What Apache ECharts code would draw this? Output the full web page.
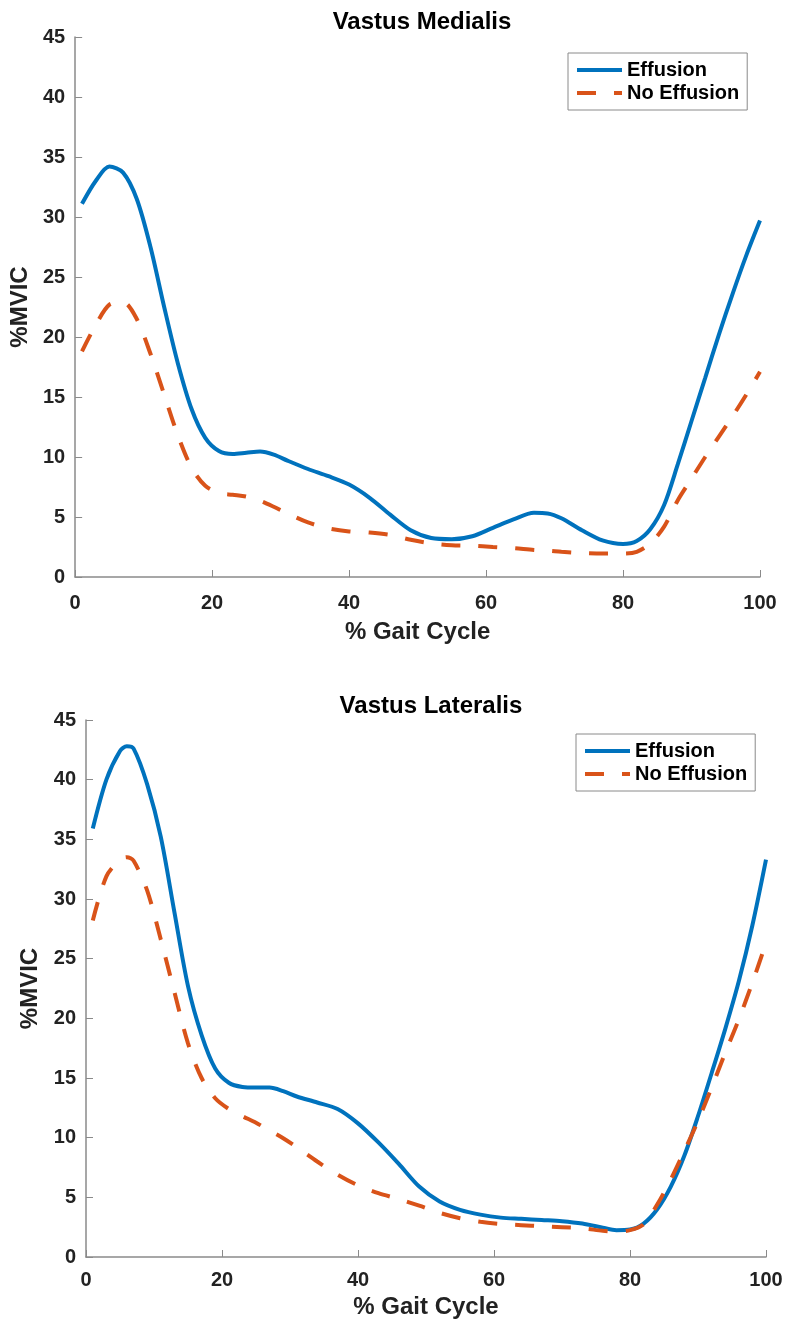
<!DOCTYPE html>
<html>
<head>
<meta charset="utf-8">
<script src="https://cdn.jsdelivr.net/npm/echarts@6/dist/echarts.min.js"></script>
<style>
html,body{margin:0;padding:0;background:#fff;}
#chart{width:786px;height:1324px;}
</style>
</head>
<body>
<div id="chart"></div>
<script>
// ---- Data ----
const titles = ['Vastus Medialis', 'Vastus Lateralis'];
const seriesNames = ['Effusion', 'No Effusion'];
const xTicks = [0, 20, 40, 60, 80, 100];
const yTicks = [0, 5, 10, 15, 20, 25, 30, 35, 40, 45];

// Vastus Medialis (% gait cycle samples)
const vmX = [1,3,5,7,9,11,13,15,17,19,21,23,25,27,29,31,34,37,40,43,46,49,52,55,58,61,64,67,69,71,74,77,80,82,84,86,88,90,92,94,96,98,100];
const vmEffusion = [31.1,33.0,34.2,33.7,31.5,27.5,22.5,17.8,14.0,11.6,10.5,10.25,10.35,10.45,10.2,9.7,9.0,8.4,7.7,6.6,5.2,3.9,3.25,3.15,3.4,4.1,4.8,5.35,5.3,4.9,3.9,3.05,2.75,3.0,4.0,6.0,9.4,13.0,16.6,20.2,23.6,26.8,29.7];
const vmNoEffusion = [18.8,21.0,22.7,22.9,21.5,18.6,15.2,11.8,9.1,7.6,7.0,6.85,6.7,6.35,5.85,5.3,4.55,4.05,3.8,3.7,3.5,3.1,2.8,2.65,2.6,2.5,2.4,2.25,2.2,2.1,2.0,1.95,1.95,2.1,2.8,4.2,6.4,8.2,10.0,11.7,13.4,15.2,17.1];

// Vastus Lateralis
const vlX = [1,3,5,6,7,9,11,13,15,17,19,21,23,25,27,29,31,34,37,40,43,46,49,52,55,58,61,64,67,70,73,76,78,80,82,84,86,88,90,92,94,96,98,100];
const vlEffusion = [35.9,40.0,42.4,42.8,42.6,39.6,35.2,28.9,22.7,18.6,15.8,14.6,14.25,14.2,14.2,13.9,13.45,12.95,12.4,11.2,9.6,7.8,5.9,4.65,3.95,3.55,3.3,3.2,3.1,3.0,2.8,2.45,2.25,2.3,2.8,4.0,5.9,8.5,11.8,15.4,19.1,23.1,27.8,33.3];
const vlNoEffusion = [28.2,31.9,33.3,33.5,33.2,30.7,26.6,22.2,17.9,15.0,13.3,12.4,11.8,11.25,10.6,9.95,9.2,8.0,6.9,6.0,5.35,4.85,4.3,3.7,3.25,2.95,2.77,2.67,2.58,2.5,2.4,2.2,2.12,2.25,2.75,4.4,6.5,8.9,11.4,14.2,17.1,19.9,23.0,26.3];

// ---- Styling ----
const FONT = 'Liberation Sans';
const BLUE = '#0072BD';
const ORANGE = '#D95319';
const AXIS_COLOR = '#8a8a8a';
const TEXT_COLOR = '#222222';

function pairs(xs, ys){ return xs.map((x,i)=>[x, ys[i]]); }

function xAxisDef(gridIndex, labelMargin, nameGap){
  return {
    type:'value', gridIndex, min:xTicks[0], max:xTicks[xTicks.length-1], interval:20,
    name:'% Gait Cycle', nameLocation:'middle', nameGap,
    nameTextStyle:{fontFamily:FONT, fontWeight:'bold', fontSize:24, color:TEXT_COLOR},
    axisLine:{show:true, lineStyle:{color:AXIS_COLOR, width:1.5}},
    axisTick:{show:true, inside:true, length:7, lineStyle:{color:AXIS_COLOR, width:1}},
    axisLabel:{margin:labelMargin, fontFamily:FONT, fontWeight:'bold', fontSize:20, color:TEXT_COLOR},
    splitLine:{show:false}
  };
}
function yAxisDef(gridIndex){
  return {
    type:'value', gridIndex, min:yTicks[0], max:yTicks[yTicks.length-1], interval:5,
    name:'%MVIC', nameLocation:'middle', nameGap:40, nameRotate:90,
    nameTextStyle:{fontFamily:FONT, fontWeight:'bold', fontSize:24, color:TEXT_COLOR},
    axisLine:{show:true, lineStyle:{color:AXIS_COLOR, width:1.5}},
    axisTick:{show:true, inside:true, length:7, lineStyle:{color:AXIS_COLOR, width:1}},
    axisLabel:{margin:10, fontFamily:FONT, fontWeight:'bold', fontSize:20, color:TEXT_COLOR},
    splitLine:{show:false}
  };
}
function lineSeries(name, idx, data, dashed){
  return {
    type:'line', name, xAxisIndex:idx, yAxisIndex:idx, data, smooth:0.3,
    symbol:'none', showSymbol:false, animation:false,
    lineStyle:{color: dashed?ORANGE:BLUE, width:4, type: dashed?[19,18]:'solid', cap:'butt'},
    itemStyle:{color: dashed?ORANGE:BLUE}
  };
}
function legendDef(left, top){
  return {
    orient:'vertical', left, top, data:seriesNames,
    itemWidth:45, itemHeight:14, itemGap:3,
    padding:[7,8,7,7],
    itemStyle:{opacity:0},
    lineStyle:{width:4},
    backgroundColor:'#ffffff', borderColor:'#8a8a8a', borderWidth:1, borderRadius:0,
    textStyle:{fontFamily:FONT, fontWeight:'bold', fontSize:20, lineHeight:20, color:'#000'},
    selectedMode:false
  };
}

const chart = echarts.init(document.getElementById('chart'), null, {renderer:'canvas'});
chart.setOption({
  backgroundColor:'#ffffff',
  animation:false,
  title:[
    {text:titles[0], left:417, top:5, textAlign:'center', textStyle:{fontFamily:FONT, fontWeight:'bold', fontSize:24, color:'#000'}},
    {text:titles[1], left:426, top:689, textAlign:'center', textStyle:{fontFamily:FONT, fontWeight:'bold', fontSize:24, color:'#000'}}
  ],
  legend:[legendDef(568, 53), legendDef(576, 734)],
  grid:[
    {left:74, right:26, top:37, bottom:747, containLabel:false},
    {left:86, right:20, top:720, bottom:67, containLabel:false}
  ],
  xAxis:[xAxisDef(0, 16, 43), xAxisDef(1, 13, 38)],
  yAxis:[yAxisDef(0), yAxisDef(1)],
  series:[
    lineSeries(seriesNames[0], 0, pairs(vmX, vmEffusion), false),
    lineSeries(seriesNames[1], 0, pairs(vmX, vmNoEffusion), true),
    lineSeries(seriesNames[0], 1, pairs(vlX, vlEffusion), false),
    lineSeries(seriesNames[1], 1, pairs(vlX, vlNoEffusion), true)
  ]
});
</script>
</body>
</html>
